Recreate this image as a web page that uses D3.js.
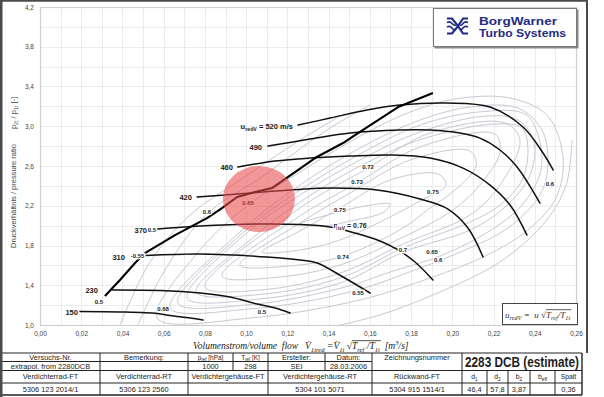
<!DOCTYPE html>
<html><head><meta charset="utf-8">
<script src="https://cdn.jsdelivr.net/npm/d3@7"></script>
<style>
html,body{margin:0;padding:0;background:#fff;}
svg{display:block;font-family:"Liberation Sans",Arial,sans-serif;}
text{white-space:pre;}
</style></head><body>
<svg id="c" width="604" height="397"></svg>
<script>
// ---------------- DATA ----------------
const xTicks = [0,0.02,0.04,0.06,0.08,0.10,0.12,0.14,0.16,0.18,0.20,0.22,0.24,0.26];
const yTicks = [1.0,1.4,1.8,2.2,2.6,3.0,3.4,3.8,4.2];

// speed lines [flow m3/s, pressure ratio]
const line150 = [[0.0194,1.136],[0.0388,1.131],[0.0568,1.116],[0.0631,1.096],[0.0728,1.070],[0.0791,1.050]];
const line230 = [[0.0349,1.352],[0.0582,1.347],[0.0776,1.322],[0.0922,1.282],[0.1053,1.211],[0.1140,1.171],[0.1213,1.121]];
const line310 = [[0.0514,1.699],[0.0776,1.714],[0.1101,1.684],[0.1261,1.654],[0.1344,1.624],[0.1470,1.483],[0.1601,1.322]];
const line370 = [[0.0568,1.966],[0.0776,1.996],[0.1067,2.016],[0.1261,2.011],[0.1407,1.986],[0.1528,1.925],[0.1649,1.845],[0.1737,1.755],[0.1819,1.634],[0.1906,1.453]];
const line420 = [[0.0762,2.288],[0.0956,2.318],[0.1213,2.358],[0.1421,2.378],[0.1635,2.358],[0.1843,2.268],[0.1979,2.167],[0.2076,1.976],[0.2149,1.684]];
const line460 = [[0.0960,2.590],[0.1140,2.650],[0.1310,2.680],[0.1504,2.700],[0.1712,2.710],[0.1892,2.680],[0.2052,2.579],[0.2183,2.408],[0.2280,2.207],[0.2362,1.905]];
const line490 = [[0.1106,2.801],[0.1310,2.871],[0.1504,2.932],[0.1746,2.962],[0.1892,2.962],[0.2037,2.932],[0.2134,2.881],[0.2231,2.761],[0.2314,2.590],[0.2425,2.227]];
const line520 = [[0.1252,3.012],[0.1407,3.082],[0.1586,3.163],[0.1746,3.213],[0.1974,3.233],[0.2183,3.193],[0.2343,2.992],[0.2440,2.731],[0.2489,2.560]];
const surgeLine = [[0.0315,1.292],[0.0388,1.453],[0.0461,1.624],[0.0509,1.724],[0.0655,1.905],[0.0810,2.076],[0.0883,2.177],[0.0956,2.288],[0.1043,2.338],[0.1125,2.378],[0.1237,2.539],[0.1334,2.680],[0.1470,2.831],[0.1528,2.911],[0.1737,3.193],[0.1906,3.334]];

const speedValues = ["150","230","310","370","420","460","490","520"];
// label anchor (right end) of each speed label [flow, pr]
const speedLabelPos = [[0.0184,1.131],[0.0281,1.352],[0.0412,1.684],[0.0519,1.956],[0.0737,2.288],[0.0936,2.590],[0.1077,2.791],[0.1227,3.002]];

// efficiency iso-lines (closed)
const eta076 = [[0.1261,2.016],[0.1431,2.127],[0.1576,2.197],[0.1698,2.217],[0.1669,2.137],[0.1528,2.056],[0.1368,1.996]];
const eta075 = [[0.1077,1.734],[0.1261,1.946],[0.1455,2.177],[0.1698,2.459],[0.1931,2.519],[0.1969,2.408],[0.1843,2.248],[0.1649,2.036],[0.1455,1.855],[0.1261,1.755]];
const eta074 = [[0.0970,1.604],[0.1261,2.026],[0.1504,2.328],[0.1795,2.660],[0.2086,2.750],[0.2115,2.600],[0.2013,2.358],[0.1892,2.177],[0.1761,1.976],[0.1470,1.694],[0.1213,1.594]];
const eta073 = [[0.0883,1.493],[0.1261,2.097],[0.1538,2.429],[0.1843,2.791],[0.2207,2.921],[0.2231,2.740],[0.2134,2.408],[0.1989,2.137],[0.1761,1.885],[0.1470,1.614],[0.1164,1.483]];
const eta072 = [[0.0800,1.382],[0.1261,2.177],[0.1591,2.579],[0.1892,2.932],[0.2256,3.032],[0.2328,2.861],[0.2231,2.408],[0.2086,2.107],[0.1761,1.815],[0.1470,1.533],[0.1116,1.362]];
const eta071 = [[0.0757,1.332],[0.1043,1.895],[0.1261,2.237],[0.1572,2.620],[0.1868,2.881],[0.2207,3.022],[0.2338,2.982],[0.2367,2.761],[0.2338,2.459],[0.2231,2.207],[0.2086,2.036],[0.1761,1.775],[0.1470,1.483],[0.1091,1.312]];
const eta070 = [[0.0713,1.272],[0.1019,1.956],[0.1261,2.308],[0.1552,2.660],[0.1843,2.942],[0.2159,3.102],[0.2319,3.062],[0.2396,2.841],[0.2377,2.509],[0.2256,2.187],[0.2086,1.956],[0.1761,1.734],[0.1470,1.433],[0.1067,1.262]];
const eta069 = [[0.0669,1.221],[0.0994,1.946],[0.1261,2.358],[0.1552,2.720],[0.1843,3.012],[0.2125,3.143],[0.2353,3.123],[0.2416,2.911],[0.2430,2.559],[0.2338,2.207],[0.2173,1.936],[0.1940,1.694],[0.1698,1.533],[0.1480,1.382],[0.1043,1.211]];
const eta068 = [[0.0631,1.171],[0.0970,1.936],[0.1261,2.408],[0.1552,2.781],[0.1843,3.062],[0.2086,3.193],[0.2319,3.183],[0.2435,2.962],[0.2464,2.610],[0.2425,2.308],[0.2270,1.976],[0.2062,1.755],[0.1843,1.573],[0.1504,1.332],[0.1019,1.161]];
const eta065 = [[0.0568,1.070],[0.0776,1.755],[0.1004,2.197],[0.1261,2.539],[0.1552,2.901],[0.1795,3.143],[0.2013,3.274],[0.2280,3.284],[0.2464,3.102],[0.2537,2.680],[0.2503,2.278],[0.2367,1.956],[0.2159,1.694],[0.1892,1.473],[0.1552,1.252],[0.1019,1.070]];
// open iso-line branches
const eta060Left  = [[0.0475,1.0],[0.0606,1.553],[0.0810,2.117],[0.1067,2.479],[0.1407,2.982],[0.1601,3.213]];
const eta060Right = [[0.2581,2.861],[0.2552,2.408],[0.2450,2.036],[0.2231,1.634],[0.1940,1.332],[0.1649,1.101],[0.1455,1.0]];
const eta055Left  = [[0.0388,1.0],[0.0534,1.634],[0.0728,2.107],[0.0970,2.459],[0.1261,2.861],[0.1480,3.133]];

// efficiency labels [flow, pr, text]
const etaLabels = [
  [0.0286,1.231,"0.5"],[0.0473,1.694,"-0.55"],[0.0543,1.956,"0.5"],[0.0810,2.137,"0.6"],
  [0.1009,2.227,"0.65"],[0.0597,1.161,"0.68"],[0.1077,1.131,"0.5"],[0.1543,1.322,"0.55"],
  [0.1470,1.684,"0.74"],[0.1455,2.157,"0.75"],[0.1761,1.755,"0.7"],[0.1902,1.734,"0.65"],
  [0.1931,1.654,"0.6"],[0.1591,2.590,"0.72"],[0.1538,2.439,"0.73"],[0.1906,2.338,"0.75"],
  [0.2474,2.419,"0.6"]
];
const etaMaxLabel = [0.1504,2.006,"0.76"];

// highlighted operating region [flow, pr, half-width flow, half-height pr]
const highlight = [0.1062,2.268,0.0175,0.332];

// title block
const headRow1 = ["Versuchs-Nr.","Bemerkung:","p_{ref} [hPa]","T_{ref} [K]","Ersteller:","Datum:","Zeichnungsnummer"];
const headRow2 = ["extrapol. from 2280DCB","","1000","298","SEI","28.03.2006",""];
const partRow1 = ["Verdichterrad-FT","Verdichterrad-RT","Verdichtergehäuse-FT","Verdichtergehäuse-RT","Rückwand-FT","d_{1}","d_{2}","b_{2}","b_{eff}","Spalt"];
const partRow2 = ["5306 123 2014/1","5306 123 2560","","5304 101 5071","5304 915 1514/1","46,4","57,8","3,87","","0,36"];
const drawingTitle = "2283 DCB (estimate)";

// ---------------- DRAW ----------------
const svg = d3.select("#c");
const X0=40, X1=576, Y0=325, Y1=7;
const x = d3.scaleLinear().domain([0,0.26]).range([X0,X1]);
const y = d3.scaleLinear().domain([1.0,4.2]).range([Y0,Y1]);

function parseRich(s){
  const parts=[]; const re=/_\{([^}]*)\}|\^\{([^}]*)\}/g; let last=0,m;
  while((m=re.exec(s))){ if(m.index>last) parts.push([s.slice(last,m.index),'n']);
    parts.push(m[1]!==undefined?[m[1],'s']:[m[2],'S']); last=re.lastIndex; }
  if(last<s.length) parts.push([s.slice(last),'n']);
  return parts;
}
function rich(parent, parts, size, opts={}){
  const g=parent.append("g");
  if(opts.family) g.attr("font-family",opts.family);
  if(opts.weight) g.attr("font-weight",opts.weight);
  if(opts.style) g.attr("font-style",opts.style);
  g.attr("fill",opts.fill||"#222");
  let cx=0; const spans=[];
  parts.forEach(([t,k])=>{
    const fs = k==='n'? size : size*0.7;
    const dy = k==='s'? size*0.3 : (k==='S'? -size*0.4 : 0);
    const el=g.append("text").attr("x",cx).attr("y",dy).attr("font-size",fs)
      .attr("xml:space","preserve").text(t);
    const w=el.node().getComputedTextLength();
    spans.push({x0:cx,x1:cx+w,el}); cx+=w;
  });
  const a=opts.anchor||'start';
  const sh = a==='middle'? -cx/2 : a==='end'? -cx : 0;
  spans.forEach(s=>{ s.el.attr("x",s.x0+sh); s.x0+=sh; s.x1+=sh; });
  return {g,spans,width:cx};
}

svg.append("rect").attr("x",0).attr("y",0).attr("width",604).attr("height",397).attr("fill","#fff");
svg.append("clipPath").attr("id","pc").append("rect").attr("x",X0).attr("y",Y1).attr("width",X1-X0+1).attr("height",Y0-Y1);

// grid
const grid=svg.append("g").attr("stroke","#ececec").attr("stroke-width",1);
d3.range(1,26).forEach(i=>{ const v=i*0.01; grid.append("line").attr("x1",Math.round(x(v))+0.5).attr("x2",Math.round(x(v))+0.5).attr("y1",Y1).attr("y2",Y0); });
d3.range(1,16).forEach(i=>{ const v=1+i*0.2; grid.append("line").attr("y1",Math.round(y(v))+0.5).attr("y2",Math.round(y(v))+0.5).attr("x1",X0).attr("x2",X1); });
svg.append("rect").attr("x",X0+0.5).attr("y",Y1+0.5).attr("width",X1-X0).attr("height",Y0-Y1)
  .attr("fill","none").attr("stroke","#cfcfcf").attr("stroke-width",1.2);

// axes (labels)
const fmt2=d=>d3.format(".2f")(d).replace(".",",");
const fmt1=d=>d3.format(".1f")(d).replace(".",",");
const xa=svg.append("g").attr("transform",`translate(0,${Y0})`)
  .call(d3.axisBottom(x).tickValues(xTicks).tickFormat(fmt2).tickSize(0).tickPadding(6));
const ya=svg.append("g").attr("transform",`translate(${X0},0)`)
  .call(d3.axisLeft(y).tickValues(yTicks).tickFormat(fmt1).tickSize(0).tickPadding(6));
[xa,ya].forEach(a=>{ a.select(".domain").remove();
  a.selectAll("text").attr("font-size",6.5).attr("fill","#444").attr("font-family","Liberation Sans, Arial, sans-serif"); });

// iso-efficiency lines
const pl = d3.line().x(d=>x(d[0])).y(d=>y(d[1]));
const closedLine = d3.line().x(d=>x(d[0])).y(d=>y(d[1])).curve(d3.curveCatmullRomClosed.alpha(0.5));
const openLine = d3.line().x(d=>x(d[0])).y(d=>y(d[1])).curve(d3.curveCatmullRom.alpha(0.5));
const cg=svg.append("g").attr("clip-path","url(#pc)").attr("fill","none").attr("stroke","#c6c9d4").attr("stroke-width",1);
[eta076,eta075,eta074,eta073,eta072,eta071,eta070,eta069,eta068,eta065].forEach(c=>cg.append("path").attr("d",closedLine(c)));
[eta060Left,eta060Right,eta055Left].forEach(c=>cg.append("path").attr("d",openLine(c)));

// speed lines
const sg=svg.append("g").attr("fill","none").attr("stroke","#111").attr("stroke-width",1.5).attr("stroke-linecap","round");
[line150,line230,line310,line370,line420,line460,line490,line520].forEach(l=>sg.append("path").attr("d",openLine(l)));
svg.append("path").attr("d",pl(surgeLine)).attr("fill","none").attr("stroke","#000").attr("stroke-width",2.1).attr("stroke-linejoin","round");

// efficiency labels with halo
const lg=svg.append("g").attr("font-size",6).attr("font-weight","bold").attr("fill","#222").attr("text-anchor","middle");
etaLabels.forEach(([f,p,t])=>{
  lg.append("text").attr("x",x(f)).attr("y",y(p)).attr("dy","0.35em")
    .attr("stroke","#fff").attr("stroke-width",2.6).attr("paint-order","stroke").text(t);
});
{
  const r=rich(svg,[["η",'n'],["isV",'s'],[" = "+etaMaxLabel[2],'n']],7,{weight:"bold",anchor:"middle"});
  r.spans.forEach(s=>s.el.attr("stroke","#fff").attr("stroke-width",2.4).attr("paint-order","stroke"));
  r.g.attr("transform",`translate(${x(etaMaxLabel[0])},${y(etaMaxLabel[1])+2.5})`);
}

// speed labels
speedValues.forEach((v,i)=>{
  const [f,p]=speedLabelPos[i];
  let parts = i===speedValues.length-1 ? [["u",'n'],["redV",'s'],[" = "+v+" m/s",'n']] : [[v,'n']];
  const r=rich(svg,parts,7.5,{weight:"bold",anchor:"end",fill:"#1a1a1a"});
  r.g.attr("transform",`translate(${x(f)},${y(p)+2.7})`);
});

// highlight
svg.append("ellipse").attr("cx",x(highlight[0])).attr("cy",y(highlight[1]))
  .attr("rx",x(highlight[0]+highlight[2])-x(highlight[0])).attr("ry",y(highlight[1]-highlight[3])-y(highlight[1]))
  .attr("fill","#e84a4c").attr("fill-opacity",0.58);

// logo box
svg.append("rect").attr("x",434.5).attr("y",9.5).attr("width",144).attr("height",39).attr("fill","#8a8a8a");
svg.append("rect").attr("x",433.5).attr("y",8.5).attr("width",143).attr("height",38).attr("fill","#fff").attr("stroke","#7a7a7a");
const navy="#1f2b85";
const lgI=svg.append("g").attr("fill","none").attr("stroke",navy).attr("stroke-width",2.2).attr("stroke-linecap","butt");
lgI.append("path").attr("d","M447,18.5 L452,18.5 L458,26 L463,18.5 L468,18.5");
lgI.append("path").attr("d","M447,33.5 L452,33.5 L458,26 L463,33.5 L468,33.5");
lgI.append("path").attr("d","M447,22.5 Q450,21 452,23.5 T456,25").attr("stroke-width",1.6);
lgI.append("path").attr("d","M447,27 Q450,25.5 452,28 T455,29.5").attr("stroke-width",1.6);
lgI.append("path").attr("d","M468,22.5 Q465,21 463,23.5 T460,25").attr("stroke-width",1.6);
lgI.append("path").attr("d","M468,27 Q465,25.5 463,28 T460,29.5").attr("stroke-width",1.6);
svg.append("text").attr("x",479).attr("y",25).attr("font-size",10.5).attr("font-weight","bold").attr("fill",navy)
  .attr("textLength",78).attr("lengthAdjust","spacingAndGlyphs").text("BorgWarner");
svg.append("text").attr("x",479).attr("y",37).attr("font-size",10.5).attr("font-weight","bold").attr("fill",navy)
  .attr("textLength",87).attr("lengthAdjust","spacingAndGlyphs").text("Turbo Systems");

// formula box
svg.append("rect").attr("x",502.5).attr("y",303.5).attr("width",75).attr("height",21).attr("fill","#fff").attr("stroke","#444");
{
  const serif="Liberation Serif, Times New Roman, serif";
  const r=rich(svg,[["u",'n'],["redV",'s'],[" =  u ",'n'],["√",'n'],["T",'n'],["ref",'s'],["/T",'n'],["1t",'s']],9,{family:serif,style:"italic",fill:"#333"});
  r.g.attr("transform","translate(505,317.5)");
  const a=r.spans[4].x0, b=r.spans[7].x1;
  r.g.append("line").attr("x1",a).attr("x2",b+1).attr("y1",-7.8).attr("y2",-7.8).attr("stroke","#333").attr("stroke-width",0.8);
}

// axis titles
{
  const gy=svg.append("g").attr("transform","translate(16,196) rotate(-90)");
  rich(gy,[["Druckverhältnis / pressure ratio",'n']],7.5,{anchor:"middle",fill:"#444"});
  const gp=svg.append("g").attr("transform","translate(16,113) rotate(-90)");
  rich(gp,[["p",'n'],["2t",'s'],[" / p",'n'],["1t",'s'],[" [-]",'n']],7.5,{anchor:"middle",fill:"#444"});
  const serif="Liberation Serif, Times New Roman, serif";
  const t1=rich(svg,[["Volumenstrom/volume  flow",'n']],9.5,{family:serif,style:"italic",fill:"#222"});
  t1.g.attr("transform","translate(193,349)");
  const t2=rich(svg,[["V\u0307",'n'],["1tred",'s'],[" =",'n'],["V\u0307",'n'],["1t",'s'],[" ",'n'],["√",'n'],["T",'n'],["ref",'s'],[" /T",'n'],["1t",'s'],["  [m",'n'],["3",'S'],["/s]",'n']],9.5,{family:serif,style:"italic",fill:"#222"});
  t2.g.attr("transform","translate(305,349)");
  const a=t2.spans[7].x0, b=t2.spans[10].x1;
  t2.g.append("line").attr("x1",a).attr("x2",b+1).attr("y1",-8.3).attr("y2",-8.3).attr("stroke","#222").attr("stroke-width",0.8);
}

// title block table
const tb=svg.append("g");
const rowY=[353,361.5,370.5,383,395];
const colTop=[1,100,188,233,268,325,372,462,582];
const colBot=[1,100,188,268,372,462,487,508,530,555,582];
const ln=(x1,y1,x2,y2,w)=>tb.append("line").attr("x1",x1).attr("y1",y1).attr("x2",x2).attr("y2",y2).attr("stroke","#222").attr("stroke-width",w||1);
ln(1,rowY[0],582,rowY[0],1.2); ln(1,rowY[4],582,rowY[4],1.4);
ln(1,rowY[1],372,rowY[1]); ln(1,rowY[2],582,rowY[2],1.2); ln(1,rowY[3],582,rowY[3]);
colTop.forEach((c,i)=>ln(c,rowY[0],c,rowY[2], (i===0||i===colTop.length-1)?1.4:1));
colBot.forEach((c,i)=>ln(c,rowY[2],c,rowY[4], (i===0||i===colBot.length-1)?1.4:1));
function cellText(txt,x0,x1,yc,size,opts){
  if(!txt) return;
  const r=rich(tb,parseRich(txt),size,Object.assign({anchor:"middle",fill:"#222"},opts||{}));
  r.g.attr("transform",`translate(${(x0+x1)/2},${yc+size*0.36})`);
}
const smallCells=[2,3];
headRow1.forEach((t,i)=>cellText(t,colTop[i],colTop[i+1],(rowY[0]+rowY[1])/2,smallCells.includes(i)?6.4:7.4));
headRow2.forEach((t,i)=>cellText(t,colTop[i],colTop[i+1],(rowY[1]+rowY[2])/2,7.4));
partRow1.forEach((t,i)=>cellText(t,colBot[i],colBot[i+1],(rowY[2]+rowY[3])/2,i>=5?6.8:7.4));
partRow2.forEach((t,i)=>cellText(t,colBot[i],colBot[i+1],(rowY[3]+rowY[4])/2,7.4));
tb.append("text").attr("x",(462+582)/2).attr("y",(rowY[0]+rowY[2])/2+5).attr("text-anchor","middle")
  .attr("font-size",14).attr("font-weight","bold").attr("fill","#222")
  .attr("textLength",114).attr("lengthAdjust","spacingAndGlyphs").text(drawingTitle);

// outer dark frame
const fr=svg.append("g").attr("stroke","#4a4a4a");
fr.append("line").attr("x1",1.2).attr("x2",1.2).attr("y1",0).attr("y2",397).attr("stroke-width",2.6);
fr.append("line").attr("x1",0).attr("x2",588).attr("y1",0.8).attr("y2",0.8).attr("stroke-width",1.8);
fr.append("line").attr("x1",587).attr("x2",587).attr("y1",0).attr("y2",353).attr("stroke-width",2);
</script>
</body></html>
